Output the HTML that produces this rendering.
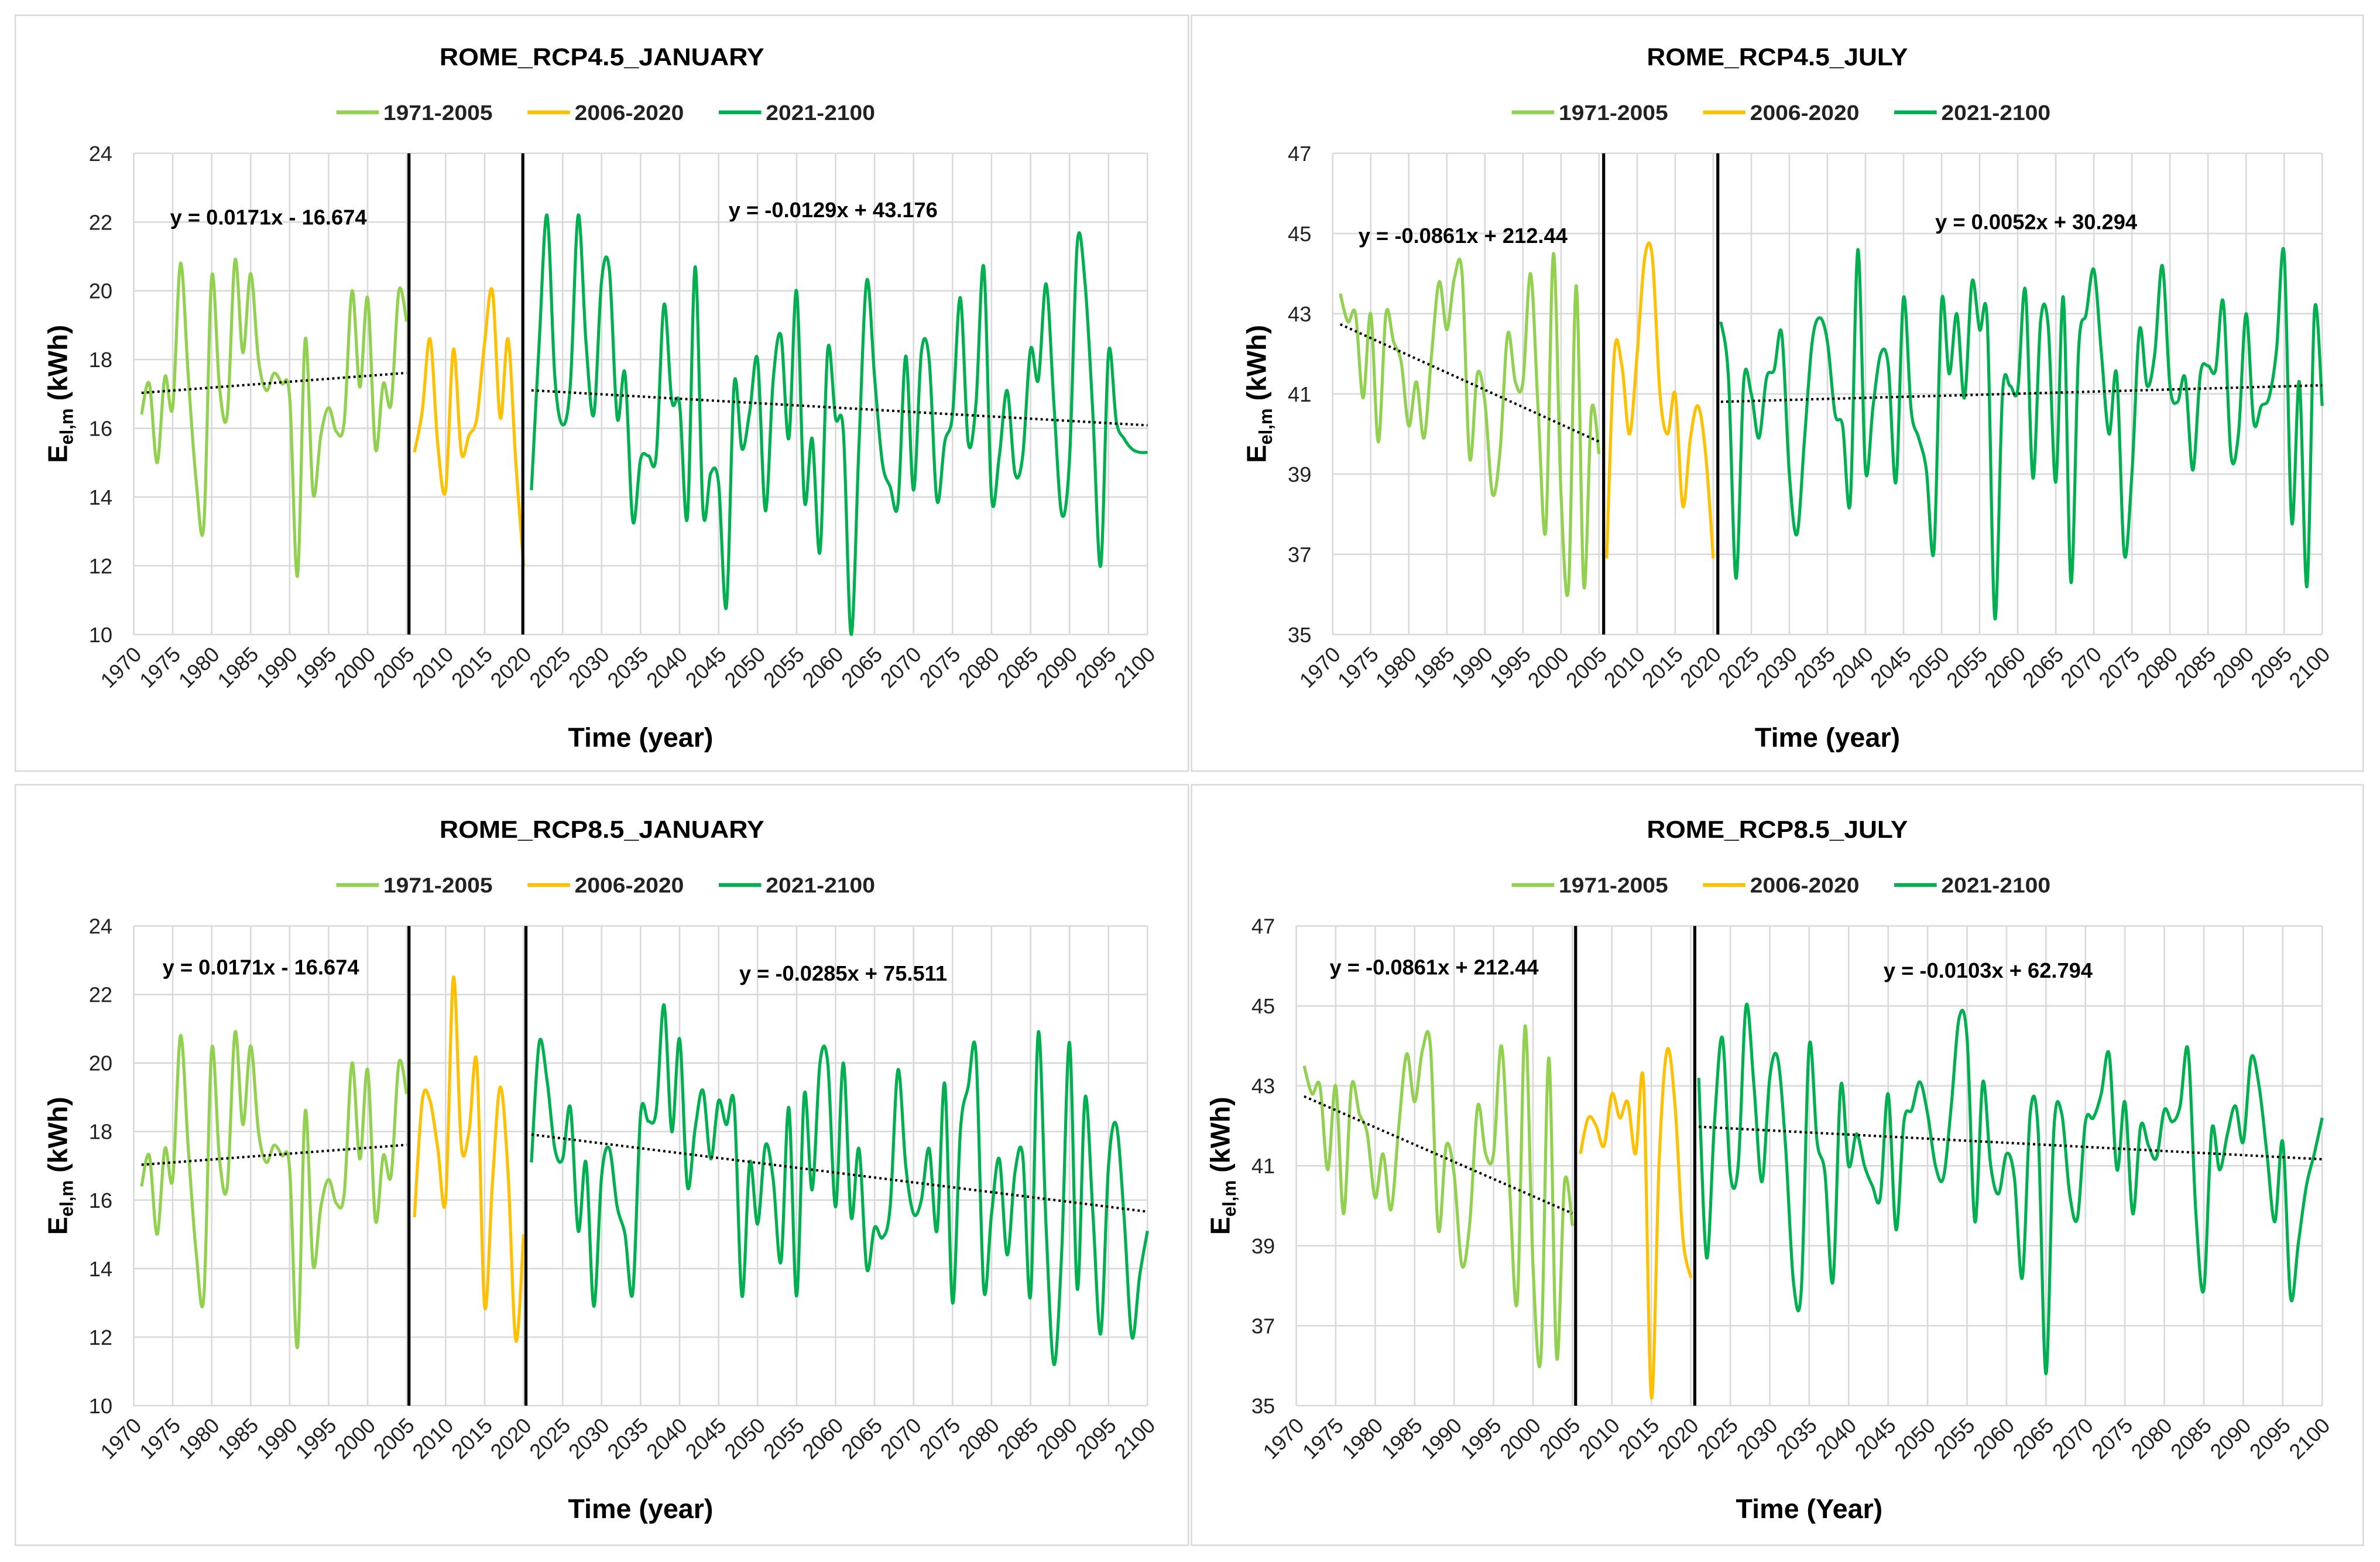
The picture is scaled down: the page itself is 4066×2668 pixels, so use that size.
<!DOCTYPE html>
<html><head><meta charset="utf-8"><style>
html,body{margin:0;padding:0;background:#fff}
svg{display:block}
text{font-family:"Liberation Sans Narrow","Liberation Sans",sans-serif}
</style></head><body>
<svg id="fig" width="4066" height="2668" viewBox="0 0 1568 1029" xmlns="http://www.w3.org/2000/svg"></svg>
<script>
const years = []; for (let y = 1971; y <= 2100; y++) years.push(y);
const histJul = [43.5,42.8,43.0,40.9,43.0,39.8,43.0,42.3,41.8,40.2,41.3,39.9,42.0,43.8,42.6,43.9,44.0,39.4,41.5,40.8,38.5,39.6,42.5,41.3,41.3,44.0,40.6,37.6,44.5,38.5,36.2,43.7,36.2,40.6,39.5];
const histJan = [16.4,17.3,15.0,17.5,16.6,20.8,17.5,14.5,13.2,20.4,17.2,16.4,20.9,18.2,20.5,18.0,17.1,17.6,17.3,16.9,11.7,18.6,14.1,15.8,16.6,15.9,16.2,20.0,17.2,19.8,15.4,17.3,16.7,20.0,19.1];
const midJan45 = [15.3,16.5,18.6,15.5,14.2,18.3,15.3,15.8,16.3,18.5,20.0,16.3,18.6,15.0,12.0];
const futJan45 = [14.2,18.5,22.2,17.5,16.1,17.3,22.2,18.5,16.4,20.3,20.6,16.3,17.6,13.3,15.1,15.2,15.2,19.6,16.8,16.7,13.4,20.7,13.6,14.7,14.4,10.8,17.3,15.4,16.5,18.0,13.6,17.4,18.7,15.7,20.0,13.9,15.7,12.4,18.3,16.3,15.9,10.0,15.5,20.3,17.5,15.0,14.3,13.8,18.1,14.2,18.2,18.0,13.9,15.6,16.4,19.8,15.6,16.7,20.7,14.0,15.2,17.1,14.7,15.2,18.3,17.4,20.2,16.7,13.5,15.1,21.4,20.2,16.4,12.0,18.2,16.2,15.7,15.4,15.3,15.3];
const midJan85 = [15.5,18.9,18.9,17.5,16.0,22.5,17.6,18.0,20.0,12.9,16.5,19.3,16.8,11.9,15.0];
const futJan85 = [17.1,20.6,19.5,17.5,17.2,18.7,15.1,17.1,12.9,16.7,17.5,15.8,15.0,13.3,18.5,18.3,18.6,21.7,18.0,20.7,16.4,18.1,19.2,17.2,18.9,18.2,18.8,13.2,17.1,15.3,17.6,16.6,14.2,18.7,13.2,19.1,16.3,20.0,20.0,15.8,20.0,15.5,17.5,14.0,15.2,14.9,15.8,19.8,17.0,15.6,16.0,17.5,15.1,19.4,13.0,18.0,19.3,20.3,13.4,15.6,17.2,14.4,16.8,17.3,13.2,20.9,15.2,11.2,14.5,20.6,13.4,19.0,15.6,12.1,17.0,18.2,15.5,12.0,13.8,15.1];
const midJul45 = [36.9,42.0,41.7,40.0,42.0,44.4,44.4,41.0,40.0,41.0,38.2,39.9,40.7,39.5,36.9];
const futJul45 = [42.8,41.4,36.4,41.3,41.0,39.9,41.4,41.6,42.5,39.0,37.5,39.9,42.3,42.9,42.3,40.5,40.2,38.3,44.6,39.1,40.7,42.0,41.7,38.8,43.4,40.6,39.9,39.1,37.1,43.3,41.5,43.0,40.9,43.8,42.6,42.8,35.4,41.0,41.2,41.1,43.6,38.9,42.8,42.7,38.8,43.4,36.3,42.1,43.0,44.1,42.0,40.0,41.5,37.0,39.0,42.6,41.2,42.0,44.2,41.2,40.8,41.4,39.1,41.5,41.7,41.6,43.3,39.5,40.0,43.0,40.3,40.7,40.9,42.1,44.5,37.8,41.3,36.2,43.1,40.7];
const midJul85 = [41.3,42.2,42.0,41.5,42.8,42.2,42.6,41.3,43.1,35.2,41.2,43.9,42.5,39.2,38.2];
const futJul85 = [43.2,38.7,42.1,44.2,40.8,41.0,45.0,43.0,40.6,43.2,43.7,41.5,38.1,37.9,44.0,41.6,40.8,38.1,43.0,41.0,41.8,41.0,40.5,40.2,42.8,39.4,42.1,42.4,43.1,42.3,41.0,40.7,42.5,44.7,44.2,39.6,43.1,41.0,40.3,41.3,40.7,38.2,42.3,41.9,35.8,41.9,42.3,40.3,39.7,42.1,42.2,42.8,43.8,40.9,42.6,39.8,42.0,41.5,41.2,42.4,42.1,42.5,43.9,39.8,37.9,41.9,40.9,41.8,42.5,41.6,43.7,43.0,41.3,39.6,41.6,37.7,39.1,40.5,41.3,42.2];
const trendJanHist = [0.0171,-16.674];
const trendJan45 = [-0.0129,43.176];
const trendJan85 = [-0.0285,75.511];
const trendJulHist = [-0.0861,212.44];
const trendJul45 = [0.0052,30.294];
const trendJul85 = [-0.0103,62.794];
const xTicks = []; for (let y = 1970; y <= 2100; y += 5) xTicks.push(y);
const janTicks = [10,12,14,16,18,20,22,24];
const julTicks = [35,37,39,41,43,45,47];
const legendLabels = ['1971-2005','2006-2020','2021-2100'];
const colors = ['#92d050','#ffc000','#00b050'];

const NS = 'http://www.w3.org/2000/svg';
const svg = document.getElementById('fig');
function mk(tag, attrs, parent, txt) {
  const e = document.createElementNS(NS, tag);
  for (const k in attrs) e.setAttribute(k, attrs[k]);
  if (txt !== undefined) e.textContent = txt;
  (parent || svg).appendChild(e);
  return e;
}
function smooth(pts) {
  let d = 'M' + pts[0][0] + ',' + pts[0][1];
  for (let i = 0; i < pts.length - 1; i++) {
    const p0 = pts[i - 1] || pts[i], p1 = pts[i], p2 = pts[i + 1], p3 = pts[i + 2] || p2;
    const c1 = [p1[0] + (p2[0] - p0[0]) / 6, p1[1] + (p2[1] - p0[1]) / 6];
    const c2 = [p2[0] - (p3[0] - p1[0]) / 6, p2[1] - (p3[1] - p1[1]) / 6];
    d += 'C' + c1 + ' ' + c2 + ' ' + p2;
  }
  return d;
}
function fmtEq(t) {
  const s = t[1] < 0 ? '- ' + Math.abs(t[1]) : '+ ' + t[1];
  return 'y = ' + t[0] + 'x ' + s;
}
function panel(c) {
  const g = mk('g', {});
  
  
  const fr = mk('rect', {x: c.fx, y: c.fy, width: c.fw, height: c.fh, fill: '#fff', stroke: '#d9d9d9', 'stroke-width': 1}, g);
  
  
  const ymin = c.ticks[0], ymax = c.ticks[c.ticks.length - 1];
  const X = v => c.x0 + (v - 1970) / 130 * (c.x1 - c.x0);
  const Y = v => c.y1 - (v - ymin) / (ymax - ymin) * (c.y1 - c.y0);
  const cx = (c.x0 + c.x1) / 2;
  const fc = c.fx + c.fw / 2;
  const t = mk('text', {x: fc, y: c.y0 - 58, 'text-anchor': 'middle', 'font-size': 16, 'font-weight': 'bold', fill: '#000', textLength: c.tl, lengthAdjust: 'spacingAndGlyphs'}, g, c.title);
  
  
  const lo = [-175, -49, 77];
  legendLabels.forEach((lb, i) => {
    const lg = mk('g', {}, g);
    
    
    mk('line', {x1: fc + lo[i], x2: fc + lo[i] + 28, y1: c.y0 - 27, y2: c.y0 - 27, stroke: colors[i], 'stroke-width': 2.5}, lg);
    mk('text', {x: fc + lo[i] + 31, y: c.y0 - 22, 'font-size': 14, 'font-weight': 'bold', fill: '#222', textLength: 72, lengthAdjust: 'spacingAndGlyphs'}, lg, lb);
  });
  c.ticks.forEach(v => {
    const l = mk('line', {x1: c.x0, x2: c.x1, y1: Y(v), y2: Y(v), stroke: '#d9d9d9', 'stroke-width': 1}, g);
    
    
    const tl = mk('text', {x: c.x0 - 14, y: Y(v) + 5, 'text-anchor': 'end', 'font-size': 14, fill: '#222'}, g, v);
    
    
  });
  xTicks.forEach(v => {
    const l = mk('line', {x1: X(v), x2: X(v), y1: c.y0, y2: c.y1, stroke: '#d9d9d9', 'stroke-width': 1}, g);
    
    
    const tl = mk('text', {x: X(v) + 6, y: c.y1 + 14, 'text-anchor': 'end', 'font-size': 14, fill: '#222', transform: 'rotate(-45 ' + (X(v) + 6) + ' ' + (c.y1 + 14) + ')'}, g, v);
    
    
  });
  const xt = mk('text', {x: cx, y: c.y1 + 74, 'text-anchor': 'middle', 'font-size': 18, 'font-weight': 'bold', fill: '#000'}, g, c.xtitle);
  
  
  const yx = c.x0 - 44, yy = (c.y0 + c.y1) / 2;
  const yt = mk('text', {x: yx, y: yy, 'text-anchor': 'middle', 'font-size': 18, 'font-weight': 'bold', fill: '#000', transform: 'rotate(-90 ' + yx + ' ' + yy + ')'}, g);
  
  
  yt.innerHTML = 'E<tspan font-size="12" dy="4">el,m</tspan><tspan dy="-4"> (kWh)</tspan>';
  const segs = [[c.hist, 1971], [c.mid, 2006], [c.fut, 2021]];
  const sn = ['series-1971-2005', 'series-2006-2020', 'series-2021-2100'];
  segs.forEach((s, i) => {
    const pts = s[0].map((v, k) => [+X(s[1] + k).toFixed(2), +Y(v).toFixed(2)]);
    const p = mk('path', {d: smooth(pts), fill: 'none', stroke: colors[i], 'stroke-width': 2}, g);
    
    
  });
  [[c.t1, 1971, 2005], [c.t2, 2021, 2100]].forEach(tr => {
    const l = mk('line', {x1: X(tr[1]), y1: Y(tr[0][0] * tr[1] + tr[0][1]), x2: X(tr[2]), y2: Y(tr[0][0] * tr[2] + tr[0][1]), stroke: '#000', 'stroke-width': 1.6, 'stroke-dasharray': '1.5 2'}, g);
    
    
  });
  c.vlines.forEach(v => {
    const l = mk('line', {x1: X(v), x2: X(v), y1: c.y0, y2: c.y1, stroke: '#000', 'stroke-width': 2}, g);
    
    
  });
  const e1 = mk('text', {x: c.e1[0], y: c.e1[1], 'font-size': 14, 'font-weight': 'bold', fill: '#000'}, g, fmtEq(c.t1));
  
  
  const e2 = mk('text', {x: c.e2[0], y: c.e2[1], 'font-size': 14, 'font-weight': 'bold', fill: '#000'}, g, fmtEq(c.t2));
  
  
}
panel({name:'panel-rcp45-january', title:'ROME_RCP4.5_JANUARY', tl:214, xtitle:'Time (year)', fx:10, fy:10, fw:773, fh:498, x0:88, x1:756, y0:101, y1:418, ticks:janTicks, hist:histJan, mid:midJan45, fut:futJan45, t1:trendJanHist, t2:trendJan45, vlines:[2005.3,2019.9], e1:[112,148], e2:[480,143]});
panel({name:'panel-rcp45-july', title:'ROME_RCP4.5_JULY', tl:172, xtitle:'Time (year)', fx:785, fy:10, fw:772, fh:498, x0:878, x1:1530, y0:101, y1:418, ticks:julTicks, hist:histJul, mid:midJul45, fut:futJul45, t1:trendJulHist, t2:trendJul45, vlines:[2005.6,2020.6], e1:[895,160], e2:[1275,151]});
panel({name:'panel-rcp85-january', title:'ROME_RCP8.5_JANUARY', tl:214, xtitle:'Time (year)', fx:10, fy:517, fw:773, fh:501, x0:88, x1:756, y0:610, y1:926, ticks:janTicks, hist:histJan, mid:midJan85, fut:futJan85, t1:trendJanHist, t2:trendJan85, vlines:[2005.3,2020.3], e1:[107,642], e2:[487,646]});
panel({name:'panel-rcp85-july', title:'ROME_RCP8.5_JULY', tl:172, xtitle:'Time (Year)', fx:785, fy:517, fw:772, fh:501, x0:854, x1:1530, y0:610, y1:926, ticks:julTicks, hist:histJul, mid:midJul85, fut:futJul85, t1:trendJulHist, t2:trendJul85, vlines:[2005.4,2020.5], e1:[876,642], e2:[1241,644]});
</script>
</body></html>
